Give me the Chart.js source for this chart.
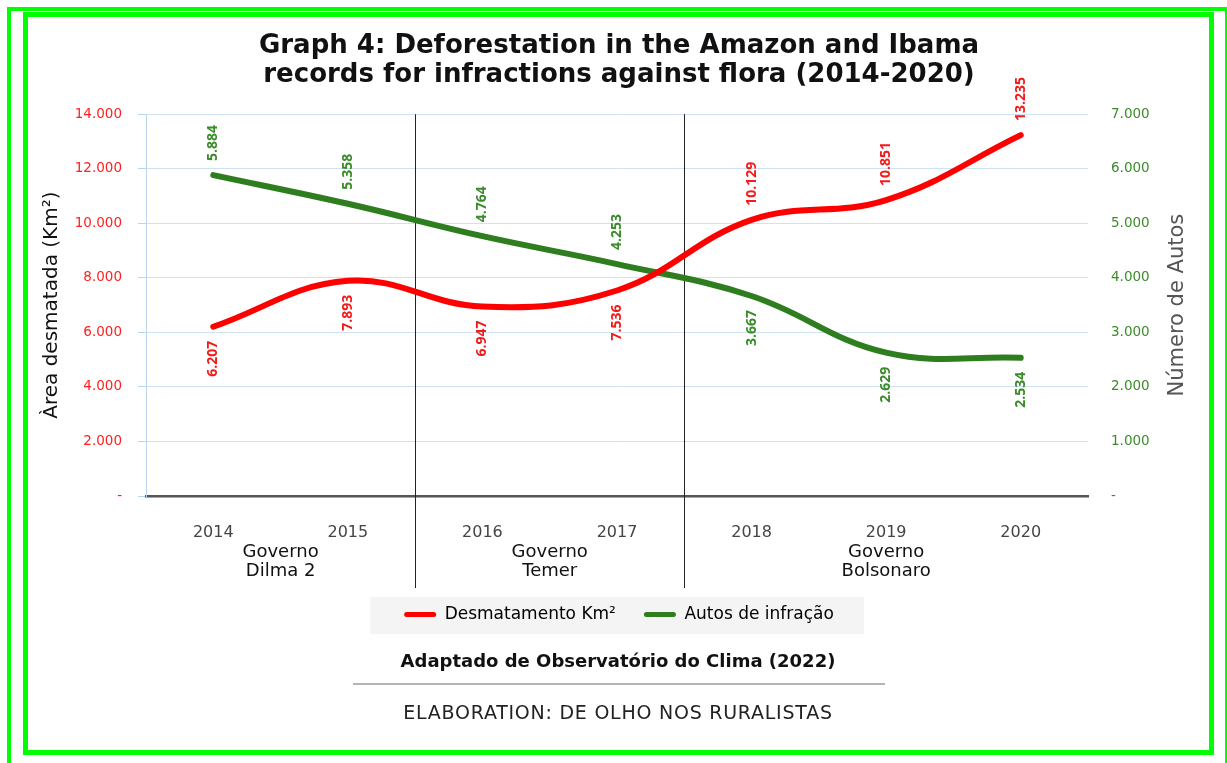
<!DOCTYPE html>
<html lang="pt">
<head>
<meta charset="utf-8">
<title>Desmatamento e autos de infração</title>
<script src="https://cdn.jsdelivr.net/npm/chart.js@4.4.1/dist/chart.umd.min.js"></script>
<style>
  html, body { margin: 0; padding: 0; background: #fff; }
  body { position: relative; width: 1227px; height: 763px; overflow: hidden; font-family: "DejaVu Sans", sans-serif; }
  .moldura-externa { position: absolute; left: 7px; top: 7px; width: 1222px; height: 820px; border: 4px solid #00ff00; box-sizing: border-box; }
  .moldura-interna { position: absolute; left: 23px; top: 12px; width: 1191px; height: 743px; border: 5px solid #00ff00; box-sizing: border-box; }
  #grafico { position: absolute; left: 0; top: 0; }
  .fonte { position: absolute; left: 0; width: 1236px; text-align: center; line-height: 24px; }
  .fonte.negrito { top: 649px; font-weight: bold; font-size: 18px; color: #111; }
  .regua { position: absolute; left: 353px; top: 683px; width: 532px; height: 2px; background: #b4b4b4; }
  .fonte.creditos { top: 700px; font-size: 19px; color: #222; letter-spacing: 0.75px; }
</style>
</head>
<body>
<div class="moldura-externa"></div>
<div class="moldura-interna"></div>
<canvas id="grafico" width="1227" height="763"></canvas>
<div class="fonte negrito">Adaptado de Observatório do Clima (2022)</div>
<div class="regua"></div>
<div class="fonte creditos">ELABORATION: DE OLHO NOS RURALISTAS</div>

<script>
const anos = ["2014", "2015", "2016", "2017", "2018", "2019", "2020"];
const desmatamento = [6207, 7893, 6947, 7536, 10129, 10851, 13235];
const autos = [5884, 5358, 4764, 4253, 3667, 2629, 2534];

const governos = [["Governo", "Dilma 2"], ["Governo", "Temer"], ["Governo", "Bolsonaro"]];
const governoInicio = [0, 2, 4];
const governoFim = [1, 3, 6];

const VERMELHO = "#ff0000";
const VERDE = "#2e7d1e";
const FONTE = '"DejaVu Sans", sans-serif';

// 14000 -> "14.000", zero aparece como traço
function milhar(v) {
    if (v === 0) return "-";
    return String(v).replace(/\B(?=(\d{3})+(?!\d))/g, ".");
}

// linhas verticais entre mandatos e nomes dos governos sob o eixo
const divisaoGovernos = {
    id: "divisaoGovernos",
    beforeDatasetsDraw(chart) {
        const x = chart.scales.x;
        const area = chart.chartArea;
        const ctx = chart.ctx;
        ctx.save();
        ctx.strokeStyle = "#222";
        ctx.lineWidth = 1;
        governoInicio.slice(1).forEach((i) => {
            const px = Math.round((x.getPixelForValue(i - 1) + x.getPixelForValue(i)) / 2) + 0.5;
            ctx.beginPath();
            ctx.moveTo(px, area.top);
            ctx.lineTo(px, area.bottom + 92);
            ctx.stroke();
        });
        ctx.fillStyle = "#111";
        ctx.font = "18px " + FONTE;
        ctx.textAlign = "center";
        ctx.textBaseline = "middle";
        governos.forEach((nome, g) => {
            const cx = (x.getPixelForValue(governoInicio[g]) + x.getPixelForValue(governoFim[g])) / 2;
            nome.forEach((linha, k) => ctx.fillText(linha, cx, area.bottom + 56 + k * 19));
        });
        ctx.restore();
    },
};

// valores escritos na vertical, do lado oposto à outra série
const rotuloValores = {
    id: "rotuloValores",
    afterDatasetsDraw(chart) {
        const ctx = chart.ctx;
        const metas = [chart.getDatasetMeta(0), chart.getDatasetMeta(1)];
        ctx.save();
        ctx.font = 'bold 14px "Open Sans", sans-serif';
        ctx.textBaseline = "middle";
        metas.forEach((meta, d) => {
            const outra = metas[1 - d];
            const ds = chart.data.datasets[d];
            meta.data.forEach((pt, i) => {
                const acima = pt.y < outra.data[i].y;
                ctx.save();
                ctx.translate(pt.x, pt.y);
                ctx.rotate(-Math.PI / 2);
                ctx.fillStyle = ds.corRotulo;
                ctx.textAlign = acima ? "left" : "right";
                ctx.fillText(milhar(ds.data[i]), acima ? 14 : -14, 0);
                ctx.restore();
            });
        });
        ctx.restore();
    },
};

// título do eixo direito, lido de baixo para cima como o esquerdo
const tituloDireito = {
    id: "tituloDireito",
    afterDraw(chart) {
        const area = chart.chartArea;
        const ctx = chart.ctx;
        ctx.save();
        ctx.translate(area.right + 90, (area.top + area.bottom) / 2);
        ctx.rotate(-Math.PI / 2);
        ctx.font = "21px " + FONTE;
        ctx.fillStyle = "#555";
        ctx.textAlign = "center";
        ctx.textBaseline = "middle";
        ctx.fillText("Número de Autos", 0, 0);
        ctx.restore();
    },
};

// fundo cinza claro atrás dos itens da legenda
const fundoLegenda = {
    id: "fundoLegenda",
    beforeDraw(chart) {
        const caixas = chart.legend.legendHitBoxes;
        if (!caixas || !caixas.length) return;
        const esq = Math.min(...caixas.map((c) => c.left));
        const dir = Math.max(...caixas.map((c) => c.left + c.width));
        const topo = caixas[0].top;
        const ctx = chart.ctx;
        ctx.save();
        ctx.fillStyle = "#f4f4f4";
        ctx.fillRect(esq - 34, topo - 9, dir - esq + 64, 37);
        ctx.restore();
    },
};

Chart.defaults.font.family = FONTE;

new Chart(document.getElementById("grafico"), {
    type: "line",
    data: {
        labels: anos,
        datasets: [
            {
                label: "Desmatamento Km²",
                data: desmatamento,
                yAxisID: "y",
                borderColor: VERMELHO,
                backgroundColor: VERMELHO,
                corRotulo: "#f41a1a",
            },
            {
                label: "Autos de infração",
                data: autos,
                yAxisID: "y2",
                borderColor: VERDE,
                backgroundColor: VERDE,
                corRotulo: "#3a8c2a",
            },
        ],
    },
    options: {
        responsive: false,
        animation: false,
        layout: { padding: { top: 14, left: 30, right: 19, bottom: 130 } },
        elements: {
            line: { borderWidth: 6, tension: 0.4, borderCapStyle: "round", fill: false },
            point: { radius: 0, hoverRadius: 0 },
        },
        scales: {
            x: {
                offset: true,
                grid: { display: false },
                border: { display: true, color: "#555", width: 2.5 },
                ticks: { color: "#444", font: { size: 16 }, padding: 19 },
                afterFit(scale) {
                    scale.height = 82;
                },
            },
            y: {
                position: "left",
                min: 0,
                max: 14000,
                ticks: {
                    stepSize: 2000,
                    color: "#ff1f1f",
                    font: { size: 13.5 },
                    padding: 16,
                    callback: (v) => milhar(v),
                },
                grid: { color: "#cfe2f3", tickColor: "#b9d5ee", tickLength: 8 },
                border: { color: "#b9d5ee", width: 1 },
                title: {
                    display: true,
                    text: "Àrea desmatada (Km²)",
                    color: "#111",
                    font: { size: 20 },
                    padding: { top: 10, bottom: 0 },
                },
                afterFit(scale) {
                    scale.width = 116;
                },
            },
            y2: {
                position: "right",
                min: 0,
                max: 7000,
                grid: { display: false },
                border: { display: false },
                ticks: {
                    stepSize: 1000,
                    color: "#3c8c2c",
                    font: { size: 13.5 },
                    padding: 15,
                    callback: (v) => milhar(v),
                },
                afterFit(scale) {
                    scale.width = 120;
                },
            },
        },
        plugins: {
            title: {
                display: true,
                text: [
                    "Graph 4: Deforestation in the Amazon and Ibama",
                    "records for infractions against flora (2014-2020)",
                ],
                color: "#111",
                font: { size: 26, weight: "bold", lineHeight: 1.12 },
                padding: { top: 18, bottom: 24 },
            },
            legend: {
                position: "bottom",
                labels: {
                    boxWidth: 32,
                    boxHeight: 5,
                    padding: 28,
                    color: "#333",
                    font: { size: 17 },
                    generateLabels: (chart) =>
                        chart.data.datasets.map((ds, i) => ({
                            text: ds.label,
                            fillStyle: ds.borderColor,
                            strokeStyle: ds.borderColor,
                            lineWidth: 0,
                            borderRadius: 2.5,
                            datasetIndex: i,
                            hidden: false,
                        })),
                },
            },
            tooltip: { enabled: false },
        },
    },
    plugins: [fundoLegenda, divisaoGovernos, rotuloValores, tituloDireito],
});
</script>
</body>
</html>
